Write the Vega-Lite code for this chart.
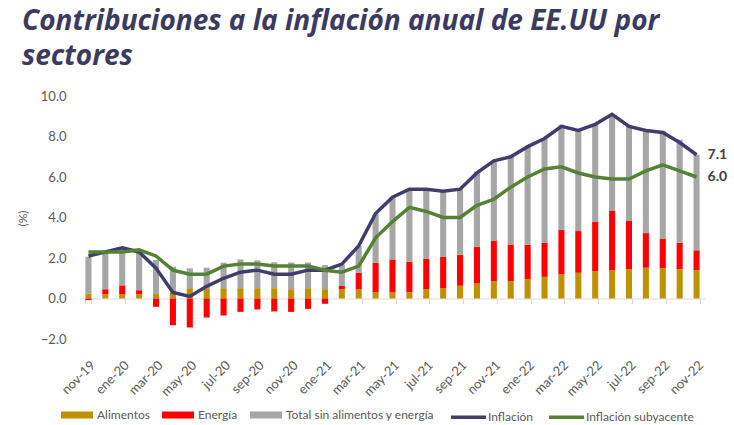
{
 "$schema": "https://vega.github.io/schema/vega-lite/v6.json",
 "width": 625, "height": 243,
 "autosize": {"type": "none"},
 "padding": {"left": 80, "top": 96, "right": 29, "bottom": 86},
 "background": "white",
 "config": {"view": {"stroke": null}, "font": "Lato"},
 "title": {"text": ["Contribuciones a la inflación anual de EE.UU por", "sectores"], "anchor": "start", "frame": "group", "dx": -58, "offset": 19, "font": "Open Sans", "fontSize": 28, "fontStyle": "italic", "fontWeight": "bold", "color": "#3d3a60", "lineHeight": 35},
 "datasets": {
  "barras": [
   {"mes":"nov-19","serie":"Alimentos","valor":0.25},{"mes":"nov-19","serie":"Energía","valor":-0.08},{"mes":"nov-19","serie":"Total sin alimentos y energía","valor":1.81},
   {"mes":"dic-19","serie":"Alimentos","valor":0.21},{"mes":"dic-19","serie":"Energía","valor":0.25},{"mes":"dic-19","serie":"Total sin alimentos y energía","valor":1.85},
   {"mes":"ene-20","serie":"Alimentos","valor":0.20},{"mes":"ene-20","serie":"Energía","valor":0.45},{"mes":"ene-20","serie":"Total sin alimentos y energía","valor":1.83},
   {"mes":"feb-20","serie":"Alimentos","valor":0.21},{"mes":"feb-20","serie":"Energía","valor":0.20},{"mes":"feb-20","serie":"Total sin alimentos y energía","valor":1.95},
   {"mes":"mar-20","serie":"Alimentos","valor":0.22},{"mes":"mar-20","serie":"Energía","valor":-0.41},{"mes":"mar-20","serie":"Total sin alimentos y energía","valor":1.68},
   {"mes":"abr-20","serie":"Alimentos","valor":0.30},{"mes":"abr-20","serie":"Energía","valor":-1.32},{"mes":"abr-20","serie":"Total sin alimentos y energía","valor":1.27},
   {"mes":"may-20","serie":"Alimentos","valor":0.51},{"mes":"may-20","serie":"Energía","valor":-1.43},{"mes":"may-20","serie":"Total sin alimentos y energía","valor":0.98},
   {"mes":"jun-20","serie":"Alimentos","valor":0.51},{"mes":"jun-20","serie":"Energía","valor":-0.94},{"mes":"jun-20","serie":"Total sin alimentos y energía","valor":1.01},
   {"mes":"jul-20","serie":"Alimentos","valor":0.51},{"mes":"jul-20","serie":"Energía","valor":-0.84},{"mes":"jul-20","serie":"Total sin alimentos y energía","valor":1.26},
   {"mes":"ago-20","serie":"Alimentos","valor":0.51},{"mes":"ago-20","serie":"Energía","valor":-0.66},{"mes":"ago-20","serie":"Total sin alimentos y energía","valor":1.42},
   {"mes":"sep-20","serie":"Alimentos","valor":0.51},{"mes":"sep-20","serie":"Energía","valor":-0.54},{"mes":"sep-20","serie":"Total sin alimentos y energía","valor":1.37},
   {"mes":"oct-20","serie":"Alimentos","valor":0.51},{"mes":"oct-20","serie":"Energía","valor":-0.64},{"mes":"oct-20","serie":"Total sin alimentos y energía","valor":1.28},
   {"mes":"nov-20","serie":"Alimentos","valor":0.46},{"mes":"nov-20","serie":"Energía","valor":-0.66},{"mes":"nov-20","serie":"Total sin alimentos y energía","valor":1.32},
   {"mes":"dic-20","serie":"Alimentos","valor":0.51},{"mes":"dic-20","serie":"Energía","valor":-0.51},{"mes":"dic-20","serie":"Total sin alimentos y energía","valor":1.27},
   {"mes":"ene-21","serie":"Alimentos","valor":0.46},{"mes":"ene-21","serie":"Energía","valor":-0.26},{"mes":"ene-21","serie":"Total sin alimentos y energía","valor":1.19},
   {"mes":"feb-21","serie":"Alimentos","valor":0.46},{"mes":"feb-21","serie":"Energía","valor":0.16},{"mes":"feb-21","serie":"Total sin alimentos y energía","valor":1.06},
   {"mes":"mar-21","serie":"Alimentos","valor":0.45},{"mes":"mar-21","serie":"Energía","valor":0.82},{"mes":"mar-21","serie":"Total sin alimentos y energía","valor":1.33},
   {"mes":"abr-21","serie":"Alimentos","valor":0.31},{"mes":"abr-21","serie":"Energía","valor":1.46},{"mes":"abr-21","serie":"Total sin alimentos y energía","valor":2.39},
   {"mes":"may-21","serie":"Alimentos","valor":0.30},{"mes":"may-21","serie":"Energía","valor":1.63},{"mes":"may-21","serie":"Total sin alimentos y energía","valor":3.07},
   {"mes":"jun-21","serie":"Alimentos","valor":0.31},{"mes":"jun-21","serie":"Energía","valor":1.51},{"mes":"jun-21","serie":"Total sin alimentos y energía","valor":3.59},
   {"mes":"jul-21","serie":"Alimentos","valor":0.46},{"mes":"jul-21","serie":"Energía","valor":1.49},{"mes":"jul-21","serie":"Total sin alimentos y energía","valor":3.45},
   {"mes":"ago-21","serie":"Alimentos","valor":0.51},{"mes":"ago-21","serie":"Energía","valor":1.54},{"mes":"ago-21","serie":"Total sin alimentos y energía","valor":3.23},
   {"mes":"sep-21","serie":"Alimentos","valor":0.63},{"mes":"sep-21","serie":"Energía","valor":1.53},{"mes":"sep-21","serie":"Total sin alimentos y energía","valor":3.24},
   {"mes":"oct-21","serie":"Alimentos","valor":0.74},{"mes":"oct-21","serie":"Energía","valor":1.82},{"mes":"oct-21","serie":"Total sin alimentos y energía","valor":3.71},
   {"mes":"nov-21","serie":"Alimentos","valor":0.86},{"mes":"nov-21","serie":"Energía","valor":1.98},{"mes":"nov-21","serie":"Total sin alimentos y energía","valor":3.96},
   {"mes":"dic-21","serie":"Alimentos","valor":0.86},{"mes":"dic-21","serie":"Energía","valor":1.81},{"mes":"dic-21","serie":"Total sin alimentos y energía","valor":4.38},
   {"mes":"ene-22","serie":"Alimentos","valor":0.96},{"mes":"ene-22","serie":"Energía","valor":1.70},{"mes":"ene-22","serie":"Total sin alimentos y energía","valor":4.84},
   {"mes":"feb-22","serie":"Alimentos","valor":1.07},{"mes":"feb-22","serie":"Energía","valor":1.67},{"mes":"feb-22","serie":"Total sin alimentos y energía","valor":5.13},
   {"mes":"mar-22","serie":"Alimentos","valor":1.19},{"mes":"mar-22","serie":"Energía","valor":2.19},{"mes":"mar-22","serie":"Total sin alimentos y energía","valor":5.20},
   {"mes":"abr-22","serie":"Alimentos","valor":1.27},{"mes":"abr-22","serie":"Energía","valor":2.06},{"mes":"abr-22","serie":"Total sin alimentos y energía","valor":4.97},
   {"mes":"may-22","serie":"Alimentos","valor":1.35},{"mes":"may-22","serie":"Energía","valor":2.45},{"mes":"may-22","serie":"Total sin alimentos y energía","valor":4.81},
   {"mes":"jun-22","serie":"Alimentos","valor":1.39},{"mes":"jun-22","serie":"Energía","valor":2.93},{"mes":"jun-22","serie":"Total sin alimentos y energía","valor":4.78},
   {"mes":"jul-22","serie":"Alimentos","valor":1.45},{"mes":"jul-22","serie":"Energía","valor":2.38},{"mes":"jul-22","serie":"Total sin alimentos y energía","valor":4.75},
   {"mes":"ago-22","serie":"Alimentos","valor":1.52},{"mes":"ago-22","serie":"Energía","valor":1.71},{"mes":"ago-22","serie":"Total sin alimentos y energía","valor":5.10},
   {"mes":"sep-22","serie":"Alimentos","valor":1.50},{"mes":"sep-22","serie":"Energía","valor":1.44},{"mes":"sep-22","serie":"Total sin alimentos y energía","valor":5.34},
   {"mes":"oct-22","serie":"Alimentos","valor":1.45},{"mes":"oct-22","serie":"Energía","valor":1.29},{"mes":"oct-22","serie":"Total sin alimentos y energía","valor":5.10},
   {"mes":"nov-22","serie":"Alimentos","valor":1.40},{"mes":"nov-22","serie":"Energía","valor":0.98},{"mes":"nov-22","serie":"Total sin alimentos y energía","valor":4.72}
  ],
  "lineas": [
   {"mes":"nov-19","serie":"Inflación","valor":2.1},{"mes":"dic-19","serie":"Inflación","valor":2.3},{"mes":"ene-20","serie":"Inflación","valor":2.5},{"mes":"feb-20","serie":"Inflación","valor":2.3},{"mes":"mar-20","serie":"Inflación","valor":1.5},{"mes":"abr-20","serie":"Inflación","valor":0.3},{"mes":"may-20","serie":"Inflación","valor":0.1},{"mes":"jun-20","serie":"Inflación","valor":0.6},{"mes":"jul-20","serie":"Inflación","valor":1.0},{"mes":"ago-20","serie":"Inflación","valor":1.3},{"mes":"sep-20","serie":"Inflación","valor":1.4},{"mes":"oct-20","serie":"Inflación","valor":1.2},{"mes":"nov-20","serie":"Inflación","valor":1.2},{"mes":"dic-20","serie":"Inflación","valor":1.4},{"mes":"ene-21","serie":"Inflación","valor":1.4},{"mes":"feb-21","serie":"Inflación","valor":1.7},{"mes":"mar-21","serie":"Inflación","valor":2.6},{"mes":"abr-21","serie":"Inflación","valor":4.2},{"mes":"may-21","serie":"Inflación","valor":5.0},{"mes":"jun-21","serie":"Inflación","valor":5.4},{"mes":"jul-21","serie":"Inflación","valor":5.4},{"mes":"ago-21","serie":"Inflación","valor":5.3},{"mes":"sep-21","serie":"Inflación","valor":5.4},{"mes":"oct-21","serie":"Inflación","valor":6.2},{"mes":"nov-21","serie":"Inflación","valor":6.8},{"mes":"dic-21","serie":"Inflación","valor":7.0},{"mes":"ene-22","serie":"Inflación","valor":7.5},{"mes":"feb-22","serie":"Inflación","valor":7.9},{"mes":"mar-22","serie":"Inflación","valor":8.5},{"mes":"abr-22","serie":"Inflación","valor":8.3},{"mes":"may-22","serie":"Inflación","valor":8.6},{"mes":"jun-22","serie":"Inflación","valor":9.1},{"mes":"jul-22","serie":"Inflación","valor":8.5},{"mes":"ago-22","serie":"Inflación","valor":8.3},{"mes":"sep-22","serie":"Inflación","valor":8.2},{"mes":"oct-22","serie":"Inflación","valor":7.7},{"mes":"nov-22","serie":"Inflación","valor":7.1},
   {"mes":"nov-19","serie":"Inflación subyacente","valor":2.3},{"mes":"dic-19","serie":"Inflación subyacente","valor":2.3},{"mes":"ene-20","serie":"Inflación subyacente","valor":2.3},{"mes":"feb-20","serie":"Inflación subyacente","valor":2.4},{"mes":"mar-20","serie":"Inflación subyacente","valor":2.1},{"mes":"abr-20","serie":"Inflación subyacente","valor":1.4},{"mes":"may-20","serie":"Inflación subyacente","valor":1.2},{"mes":"jun-20","serie":"Inflación subyacente","valor":1.2},{"mes":"jul-20","serie":"Inflación subyacente","valor":1.6},{"mes":"ago-20","serie":"Inflación subyacente","valor":1.7},{"mes":"sep-20","serie":"Inflación subyacente","valor":1.7},{"mes":"oct-20","serie":"Inflación subyacente","valor":1.6},{"mes":"nov-20","serie":"Inflación subyacente","valor":1.6},{"mes":"dic-20","serie":"Inflación subyacente","valor":1.6},{"mes":"ene-21","serie":"Inflación subyacente","valor":1.4},{"mes":"feb-21","serie":"Inflación subyacente","valor":1.3},{"mes":"mar-21","serie":"Inflación subyacente","valor":1.6},{"mes":"abr-21","serie":"Inflación subyacente","valor":3.0},{"mes":"may-21","serie":"Inflación subyacente","valor":3.8},{"mes":"jun-21","serie":"Inflación subyacente","valor":4.5},{"mes":"jul-21","serie":"Inflación subyacente","valor":4.3},{"mes":"ago-21","serie":"Inflación subyacente","valor":4.0},{"mes":"sep-21","serie":"Inflación subyacente","valor":4.0},{"mes":"oct-21","serie":"Inflación subyacente","valor":4.6},{"mes":"nov-21","serie":"Inflación subyacente","valor":4.9},{"mes":"dic-21","serie":"Inflación subyacente","valor":5.5},{"mes":"ene-22","serie":"Inflación subyacente","valor":6.0},{"mes":"feb-22","serie":"Inflación subyacente","valor":6.4},{"mes":"mar-22","serie":"Inflación subyacente","valor":6.5},{"mes":"abr-22","serie":"Inflación subyacente","valor":6.2},{"mes":"may-22","serie":"Inflación subyacente","valor":6.0},{"mes":"jun-22","serie":"Inflación subyacente","valor":5.9},{"mes":"jul-22","serie":"Inflación subyacente","valor":5.9},{"mes":"ago-22","serie":"Inflación subyacente","valor":6.3},{"mes":"sep-22","serie":"Inflación subyacente","valor":6.6},{"mes":"oct-22","serie":"Inflación subyacente","valor":6.3},{"mes":"nov-22","serie":"Inflación subyacente","valor":6.0}
  ]
 },
 "encoding": {
  "x": {"field": "mes", "type": "nominal",
   "sort": ["nov-19","dic-19","ene-20","feb-20","mar-20","abr-20","may-20","jun-20","jul-20","ago-20","sep-20","oct-20","nov-20","dic-20","ene-21","feb-21","mar-21","abr-21","may-21","jun-21","jul-21","ago-21","sep-21","oct-21","nov-21","dic-21","ene-22","feb-22","mar-22","abr-22","may-22","jun-22","jul-22","ago-22","sep-22","oct-22","nov-22"],
   "scale": {"paddingInner": 0.64, "paddingOuter": 0.32},
   "axis": {"title": null, "values": ["nov-19","ene-20","mar-20","may-20","jul-20","sep-20","nov-20","ene-21","mar-21","may-21","jul-21","sep-21","nov-21","ene-22","mar-22","may-22","jul-22","sep-22","nov-22"],
    "offset": -40.5, "domain": true, "domainColor": "#d9d9d9", "ticks": true, "tickColor": "#d9d9d9", "tickSize": 5, "tickBand": "extent", "grid": false,
    "labelAngle": -45, "labelPadding": 55, "labelFont": "Lato", "labelFontSize": 13, "labelColor": "#595959", "labelOverlap": false}},
  "y": {"field": "valor", "type": "quantitative",
   "scale": {"domain": [-2, 10], "nice": false, "zero": false},
   "axis": {"title": "(%)", "values": [-2, 0, 2, 4, 6, 8, 10], "format": ".1f", "domain": false, "ticks": false, "grid": false, "labelPadding": 14,
    "labelFont": "Lato", "labelFontSize": 13, "labelColor": "#595959",
    "titleFont": "Lato", "titleFontSize": 12, "titleFontWeight": "normal", "titleColor": "#595959", "titleX": -58, "titleY": 122, "titleAngle": -90, "titleAlign": "center", "titleBaseline": "middle"}}
 },
 "layer": [
  {"data": {"name": "barras"}, "mark": {"type": "bar"},
   "encoding": {
    "fill": {"field": "serie", "type": "nominal",
     "scale": {"domain": ["Alimentos", "Energía", "Total sin alimentos y energía"], "range": ["#bf9000", "#ff0000", "#a6a6a6"]},
     "legend": {"title": null, "orient": "none", "direction": "horizontal", "legendX": -19, "legendY": 303, "symbolType": "M-1,-0.22H1V0.22H-1Z", "symbolSize": 1024, "symbolStrokeWidth": 0, "labelOffset": 4, "columnPadding": 12, "labelFont": "Lato", "labelFontSize": 12, "labelColor": "#595959"}},
    "order": {"field": "serie", "sort": "ascending"}}},
  {"data": {"name": "lineas"}, "mark": {"type": "line", "strokeWidth": 3.5},
   "encoding": {
    "stroke": {"field": "serie", "type": "nominal",
     "scale": {"domain": ["Inflación", "Inflación subyacente"], "range": ["#3f3d6c", "#548235"]},
     "legend": {"title": null, "orient": "none", "direction": "horizontal", "legendX": 369, "legendY": 301.5, "symbolType": "stroke", "symbolSize": 1225, "symbolStrokeWidth": 3.5, "labelOffset": 0, "columnPadding": 8, "labelFont": "Lato", "labelFontSize": 12, "labelColor": "#595959"}},
    "order": {"value": null}}},
  {"data": {"name": "lineas"}, "transform": [{"filter": "datum.mes === 'nov-22'"}],
   "mark": {"type": "text", "align": "left", "baseline": "middle", "dx": 11, "font": "Lato", "fontSize": 14, "fontWeight": "bold", "color": "#404040"},
   "encoding": {"text": {"field": "valor", "type": "quantitative", "format": ".1f"}}}
 ]
}
